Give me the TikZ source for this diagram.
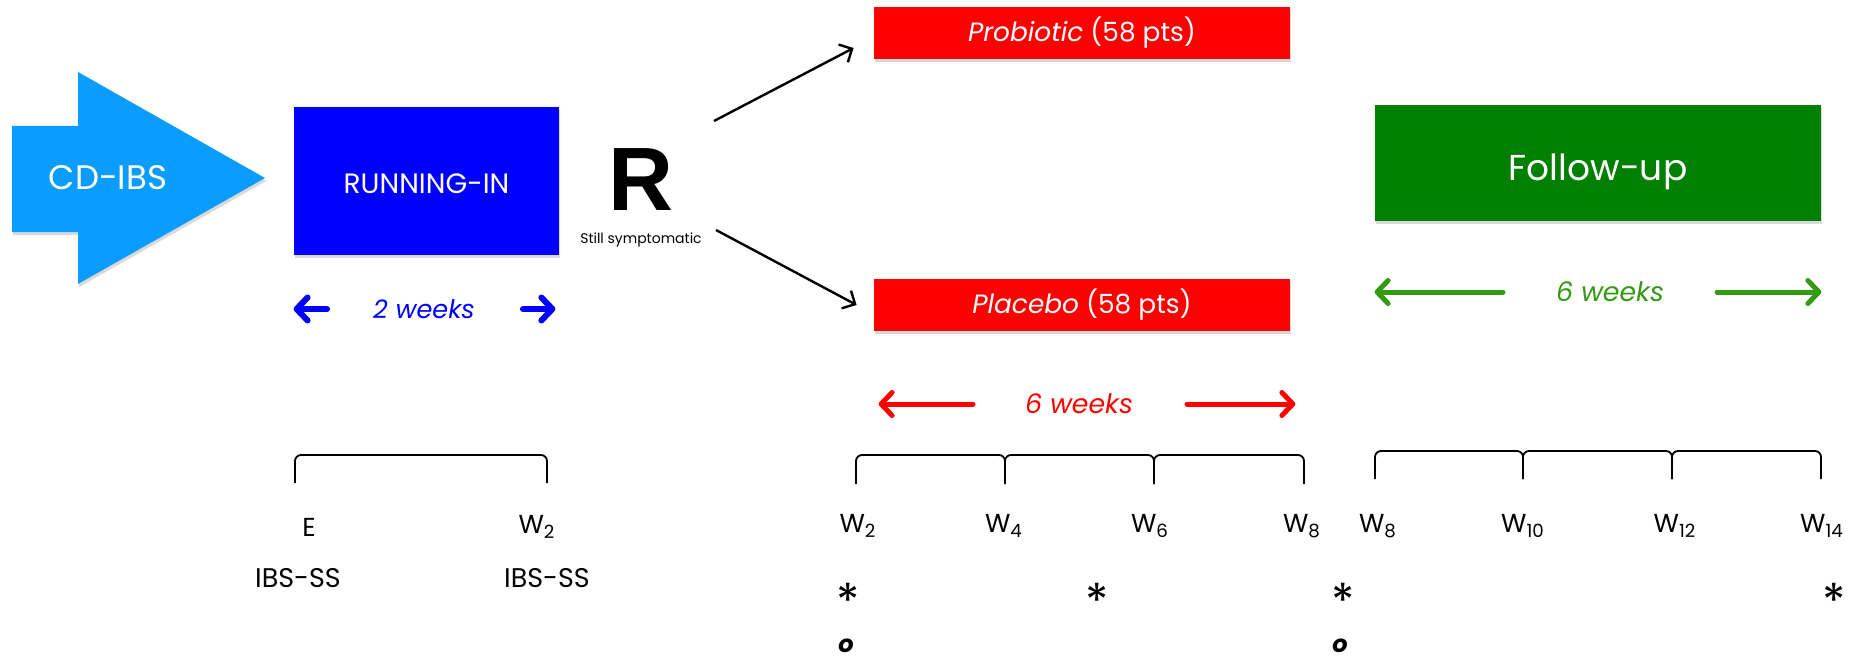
\documentclass[tikz,border=0pt]{standalone}
\usepackage{fontspec}
\setmainfont{Poppins}
\newfontfamily\rfont{Liberation Sans}
\usetikzlibrary{arrows.meta, shadows}
\definecolor{cdblue}{HTML}{0A9CFF}
\definecolor{runblue}{HTML}{0000FF}
\definecolor{armred}{HTML}{FF0000}
\definecolor{fugreen}{HTML}{007F00}
\definecolor{wkgreen}{HTML}{349A12}
\newcommand{\fs}[1]{\fontsize{#1}{#1}\selectfont}

\begin{document}
\begin{tikzpicture}[x=0.5pt, y=-0.5pt,
  shade/.style={drop shadow={shadow xshift=0.6pt, shadow yshift=-1.5pt, opacity=0.3}},
  phase/.style={rectangle, inner sep=0pt, text=white, shade},
  lbl/.style={font=\fs{13}, inner sep=1pt},
  wk/.style={font=\fs{13.4}\itshape, inner sep=1pt},
  span/.style={line width=2.5pt, line cap=round, -{Straight Barb[length=5.5pt, width=11.5pt, round]}},
  ar/.style={line width=1.2pt, -{Straight Barb[length=5pt, width=10pt]}},
  brk/.style={line width=0.9pt, rounded corners=3pt},
  astk/.style={font=\fs{24}, inner sep=0pt},
  omk/.style={font=\fs{12}\bfseries\itshape, inner sep=0pt}
]
\useasboundingbox (0,0) rectangle (1852,658);

% entry arrow
\fill[cdblue, shade] (12,126) -- (78,126) -- (78,72) -- (265,178)
  -- (78,284) -- (78,232) -- (12,232) -- cycle;
\node[font=\fs{17}, text=white] (cdibs) at (108,178) {CD-IBS};

% phases
\node[phase, fill=runblue, minimum width=132.5pt, minimum height=74pt,
      font=\fs{14}, text height=12pt, text depth=0pt] (runin) at (426.5,181) {RUNNING-IN};
\node[font=\rfont\bfseries\fs{45}, inner sep=0pt] (rand) at (641,180) {R};
\node[font=\fs{7}, inner sep=0pt] (still) at (641,240) {Still symptomatic};
\node[phase, fill=armred, minimum width=208pt, minimum height=26pt,
      font=\fs{13.2}] (probio) at (1082,33) {\textit{Probiotic} (58 pts)};
\node[phase, fill=armred, minimum width=208pt, minimum height=26pt,
      font=\fs{13.2}] (placebo) at (1082,305) {\textit{Placebo} (58 pts)};
\node[phase, fill=fugreen, minimum width=223pt, minimum height=58pt,
      font=\fs{18}, text height=17.6pt, text depth=0pt] (follow) at (1598,163) {Follow-up};

% randomisation
\coordinate (rup) at (714,121);
\coordinate (rdn) at (716,230);
\draw[ar] (rup) -- ([xshift=-10pt, yshift=-7.5pt]probio.west);
\draw[ar] (rdn) -- ([xshift=-8.5pt]placebo.west);

% durations
\node[wk, text=runblue, font=\fs{12.8}\itshape] (wk2) at (424,309) {2 weeks};
\draw[span, runblue, line width=3pt, shorten <=48.5pt] (wk2.center) -- (runin.west |- wk2);
\draw[span, runblue, line width=3pt, shorten <=49.5pt, shorten >=2pt] (wk2.center) -- (runin.east |- wk2);
\node[wk, text=armred] (wk6a) at (1079,404) {6 weeks};
\draw[span, armred, shorten <=53pt, shorten >=2.5pt] (wk6a.center) -- (placebo.west |- wk6a);
\draw[span, armred, shorten <=54pt, shorten >=-2.5pt] (wk6a.center) -- (placebo.east |- wk6a);
\node[wk, text=wkgreen] (wk6b) at (1610,292) {6 weeks};
\draw[span, wkgreen, shorten <=53.5pt] (wk6b.center) -- (follow.west |- wk6b);
\draw[span, wkgreen, shorten <=53.5pt] (wk6b.center) -- (follow.east |- wk6b);

% visit brackets
\draw[brk] (295,483) -- (295,455) -- (547,455) -- (547,483);
\foreach \a/\b in {856/1005, 1005/1154, 1154/1304}
  \draw[brk] (\a,484) -- (\a,455) -- (\b,455) -- (\b,484);
\foreach \a/\b in {1375/1523, 1523/1672, 1672/1821}
  \draw[brk] (\a,479) -- (\a,451) -- (\b,451) -- (\b,479);

% visits
\node[lbl] (ve) at (309,527) {E};
\node[lbl] (vw2) at (537,527) {W\textsubscript{2}};
\node[lbl, font=\fs{13.5}] (ss1) at (298,578) {IBS-SS};
\node[lbl, font=\fs{13.5}] (ss2) at (547,578) {IBS-SS};
\foreach \x/\n in {858/2, 1004/4, 1150/6, 1302/8}
  \node[lbl] (wa\n) at (\x,526) {W\textsubscript{\n}};
\foreach \x/\n in {1378/8, 1523/10, 1675/12, 1822/14}
  \node[lbl] (wb\n) at (\x,526) {W\textsubscript{\n}};

% assessments
\foreach \x/\n in {848/1, 1097/2, 1343/3, 1834/4}
  \node[astk] (ast\n) at (\x,590) {\smash{\raisebox{-0.6em}{*}}};
\node[omk] (o1) at (846,646) {o};
\node[omk] (o2) at (1340,646) {o};
\end{tikzpicture}
\end{document}
